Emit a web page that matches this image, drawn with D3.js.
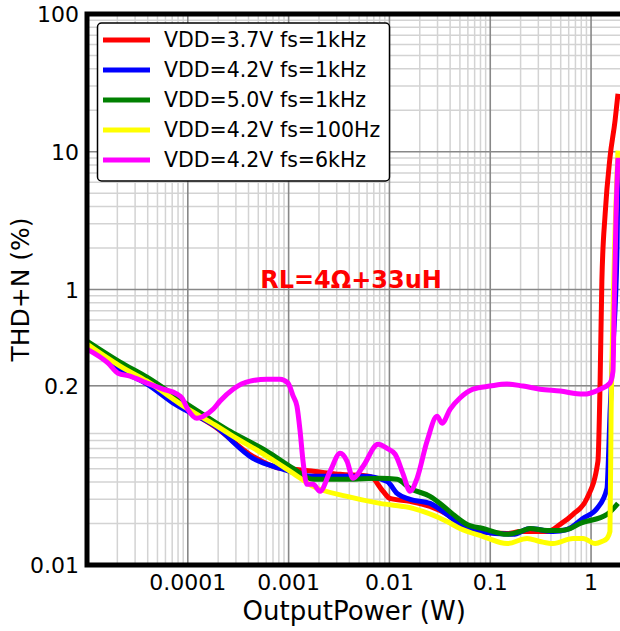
<!DOCTYPE html>
<html>
<head>
<meta charset="utf-8">
<script src="https://cdn.jsdelivr.net/npm/d3@7"></script>
<style>
body { margin: 0; background: #fff; }
svg { display: block; font-family: "DejaVu Sans", sans-serif; }
</style>
</head>
<body>
<div id="chart"></div>
<script>
const seriesNames = ["VDD=3.7V fs=1kHz", "VDD=4.2V fs=1kHz", "VDD=5.0V fs=1kHz", "VDD=4.2V fs=100Hz", "VDD=4.2V fs=6kHz"];
const seriesColors = ["#ff0000", "#0000ff", "#008000", "#ffff00", "#ff00ff"];

const xTickValues = [0.0001, 0.001, 0.01, 0.1, 1];
const xTickLabels = ["0.0001", "0.001", "0.01", "0.1", "1"];
const yTickValues = [0.01, 0.2, 1, 10, 100];
const yTickLabels = ["0.01", "0.2", "1", "10", "100"];

// [output power (W), THD+N (%)]
const vdd37_1k = [
  [1.0e-5, 0.388], [2.13e-5, 0.264], [3.94e-5, 0.209], [7.47e-5, 0.150], [1.86e-4, 0.101],
  [4.43e-4, 0.0615], [8.22e-4, 0.0503], [1.11e-3, 0.0495], [1.75e-3, 0.0479], [3.24e-3, 0.0455],
  [6.43e-3, 0.0440], [8.64e-3, 0.0343], [1.01e-2, 0.0305], [1.60e-2, 0.0290], [2.53e-2, 0.0266],
  [3.73e-2, 0.0233], [5.37e-2, 0.0191], [7.92e-2, 0.0175], [0.147, 0.0169], [0.198, 0.0175],
  [0.366, 0.0175], [0.493, 0.0197], [0.663, 0.0233], [0.912, 0.0305], [1.17, 0.0566],
  [1.23, 0.216], [1.28, 1.15], [1.38, 3.54], [1.54, 9.04], [1.73, 16.8], [1.85, 26.4]
];
const vdd42_1k = [
  [1.0e-5, 0.388], [2.13e-5, 0.260], [3.94e-5, 0.206], [7.47e-5, 0.147], [1.86e-4, 0.102],
  [4.43e-4, 0.0595], [8.22e-4, 0.0503], [1.75e-3, 0.0440], [5.47e-3, 0.0440], [9.47e-3, 0.0405],
  [1.19e-2, 0.0331], [1.60e-2, 0.0300], [2.53e-2, 0.0280], [3.73e-2, 0.0233], [5.37e-2, 0.0191],
  [7.92e-2, 0.0175], [0.168, 0.0167], [0.248, 0.0184], [0.420, 0.0175], [0.578, 0.0181],
  [0.833, 0.0218], [1.15, 0.0258], [1.44, 0.0360], [1.48, 0.0538], [1.54, 0.124],
  [1.65, 0.376], [1.81, 2.00], [1.85, 7.65]
];
const vdd50_1k = [
  [1.0e-5, 0.422], [2.13e-5, 0.297], [3.94e-5, 0.231], [9.82e-5, 0.147], [1.86e-4, 0.109],
  [2.62e-4, 0.0935], [6.10e-4, 0.0669], [1.11e-3, 0.0503], [1.75e-3, 0.0419], [3.80e-3, 0.0419],
  [8.07e-3, 0.0426], [1.19e-2, 0.0419], [1.60e-2, 0.0360], [2.53e-2, 0.0315], [3.18e-2, 0.0280],
  [4.28e-2, 0.0233], [5.89e-2, 0.0197], [8.49e-2, 0.0184], [0.147, 0.0167], [0.198, 0.0175],
  [0.248, 0.0184], [0.366, 0.0178], [0.493, 0.0178], [0.619, 0.0184], [0.778, 0.0200],
  [1.44, 0.0233], [1.85, 0.0280]
];
const vdd42_100 = [
  [1.0e-5, 0.402], [2.13e-5, 0.278], [3.94e-5, 0.216], [9.82e-5, 0.137], [1.86e-4, 0.104],
  [2.62e-4, 0.0889], [6.10e-4, 0.0615], [1.11e-3, 0.0463], [1.75e-3, 0.0372], [3.80e-3, 0.0315],
  [8.07e-3, 0.0280], [1.71e-2, 0.0258], [3.73e-2, 0.0207], [5.01e-2, 0.0184], [8.49e-2, 0.0161],
  [0.147, 0.0143], [0.232, 0.0156], [0.312, 0.0148], [0.420, 0.0143], [0.663, 0.0156],
  [0.833, 0.0156], [1.10, 0.0143], [1.28, 0.0148], [1.44, 0.0156], [1.54, 0.0175],
  [1.58, 0.124], [1.65, 0.664], [1.73, 2.66], [1.81, 6.92], [1.85, 10.2]
];
const vdd42_6k = [
  [1.0e-5, 0.369], [1.62e-5, 0.292], [2.03e-5, 0.247], [2.67e-5, 0.235], [3.94e-5, 0.209],
  [5.68e-5, 0.189], [7.82e-5, 0.174], [8.75e-5, 0.163], [1.0e-4, 0.135], [1.23e-4, 0.116],
  [1.42e-4, 0.120], [1.78e-4, 0.135], [2.09e-4, 0.155], [2.81e-4, 0.189], [4.14e-4, 0.216],
  [6.10e-4, 0.223], [8.22e-4, 0.223], [9.86e-4, 0.209], [1.11e-3, 0.168], [1.21e-3, 0.142],
  [1.30e-3, 0.0935], [1.39e-3, 0.0566], [1.52e-3, 0.0385], [1.75e-3, 0.0385], [2.05e-3, 0.0343],
  [2.58e-3, 0.0479], [3.24e-3, 0.0647], [3.80e-3, 0.0566], [4.35e-3, 0.0426], [5.47e-3, 0.0520],
  [7.71e-3, 0.0752], [9.47e-3, 0.0703], [1.14e-2, 0.0637], [1.37e-2, 0.0455], [1.60e-2, 0.0343],
  [1.88e-2, 0.0426], [2.36e-2, 0.0791], [2.97e-2, 0.120], [3.33e-2, 0.107], [3.99e-2, 0.135],
  [5.01e-2, 0.163], [6.75e-2, 0.189], [9.95e-2, 0.199], [0.147, 0.206], [0.211, 0.199],
  [0.312, 0.189], [0.493, 0.183], [0.833, 0.174], [1.23, 0.189], [1.54, 0.209],
  [1.65, 0.255], [1.69, 0.664], [1.77, 3.54], [1.85, 9.04]
];
const allSeries = [vdd37_1k, vdd42_1k, vdd50_1k, vdd42_100, vdd42_6k];

const W = 620, H = 631;
const plot = {left: 87, right: 621.4, top: 14, bottom: 565};

const svg = d3.select("#chart").append("svg")
    .attr("width", W)
    .attr("height", H);

const x = d3.scaleLog().domain([1e-5, 2]).range([plot.left, plot.right]);
const y = d3.scaleLog().domain([0.01, 100]).range([plot.bottom, plot.top]);

// minor grid values (2..9 per decade)
const xMinor = [], yMinor = [];
for (let e = -5; e <= 0; e++) for (let k = 2; k <= 9; k++) {
    const v = k * Math.pow(10, e);
    if (v <= 2) xMinor.push(v);
}
for (let e = -2; e <= 1; e++) for (let k = 2; k <= 9; k++) yMinor.push(k * Math.pow(10, e));

const grid = svg.append("g");
grid.selectAll(".xminor").data(xMinor).enter().append("line")
    .attr("x1", d => x(d)).attr("x2", d => x(d))
    .attr("y1", plot.top).attr("y2", plot.bottom)
    .attr("stroke", "#d3d3d3").attr("stroke-width", 1.5);
grid.selectAll(".yminor").data(yMinor).enter().append("line")
    .attr("x1", plot.left).attr("x2", plot.right)
    .attr("y1", d => y(d)).attr("y2", d => y(d))
    .attr("stroke", "#d3d3d3").attr("stroke-width", 1.5);
grid.selectAll(".xmajor").data(xTickValues).enter().append("line")
    .attr("x1", d => x(d)).attr("x2", d => x(d))
    .attr("y1", plot.top).attr("y2", plot.bottom)
    .attr("stroke", "#888").attr("stroke-width", 1.6);
grid.selectAll(".ymajor").data(yTickValues).enter().append("line")
    .attr("x1", plot.left).attr("x2", plot.right)
    .attr("y1", d => y(d)).attr("y2", d => y(d))
    .attr("stroke", "#888").attr("stroke-width", 1.6);

svg.append("clipPath").attr("id", "clip")
    .append("rect")
    .attr("x", plot.left).attr("y", plot.top)
    .attr("width", plot.right - plot.left).attr("height", plot.bottom - plot.top);

const line = d3.line()
    .x(d => x(d[0]))
    .y(d => y(d[1]))
    .curve(d3.curveMonotoneX);

svg.append("g").attr("clip-path", "url(#clip)")
    .selectAll("path")
    .data(allSeries)
    .enter().append("path")
    .attr("d", line)
    .attr("fill", "none")
    .attr("stroke", (d, i) => seriesColors[i])
    .attr("stroke-width", 5)
    .attr("stroke-linejoin", "round");

// annotation
svg.append("text")
    .attr("x", 351)
    .attr("y", 288)
    .attr("text-anchor", "middle")
    .style("font-size", "24px")
    .style("font-weight", "bold")
    .attr("fill", "#ff0000")
    .text("RL=4\u03A9+33uH");

// frame (left, top, bottom)
svg.append("path")
    .attr("d", `M${W + 5},${plot.top} H${plot.left} V${plot.bottom} H${W + 5}`)
    .attr("fill", "none")
    .attr("stroke", "#000")
    .attr("stroke-width", 5)
    .attr("stroke-linejoin", "miter");

// tick labels
svg.selectAll(".xtl").data(xTickValues).enter().append("text")
    .attr("x", d => x(d))
    .attr("y", plot.bottom + 25)
    .attr("text-anchor", "middle")
    .style("font-size", "22px")
    .text((d, i) => xTickLabels[i]);

svg.selectAll(".ytl").data(yTickValues).enter().append("text")
    .attr("x", 79)
    .attr("y", d => y(d) + 8)
    .attr("text-anchor", "end")
    .style("font-size", "22px")
    .text((d, i) => yTickLabels[i]);

svg.append("text")
    .attr("x", (plot.left + plot.right) / 2)
    .attr("y", 620)
    .attr("text-anchor", "middle")
    .style("font-size", "26px")
    .text("OutputPower (W)");

svg.append("text")
    .attr("transform", `translate(29,${(plot.top + plot.bottom) / 2}) rotate(-90)`)
    .attr("text-anchor", "middle")
    .style("font-size", "25px")
    .text("THD+N (%)");

// legend
const legend = svg.append("g");
legend.append("rect")
    .attr("x", 97.5).attr("y", 23)
    .attr("width", 292).attr("height", 158)
    .attr("rx", 4)
    .attr("fill", "#fff")
    .attr("stroke", "#000")
    .attr("stroke-width", 1.5);

const items = legend.selectAll(".item").data(seriesNames).enter().append("g")
    .attr("transform", (d, i) => `translate(0,${40 + i * 30})`);
items.append("line")
    .attr("x1", 103).attr("x2", 150)
    .attr("stroke", (d, i) => seriesColors[i])
    .attr("stroke-width", 5);
items.append("text")
    .attr("x", 164)
    .attr("y", 7)
    .style("font-size", "20.5px")
    .text(d => d);
</script>
</body>
</html>
